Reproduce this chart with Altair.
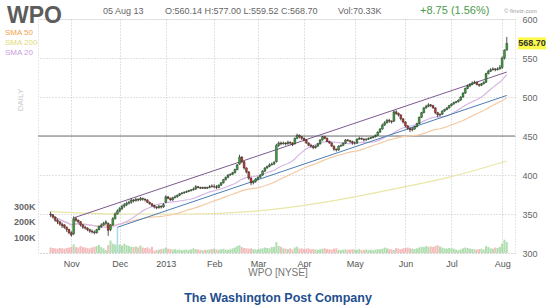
import altair as alt
import pandas as pd

FONT = "Liberation Sans"

# ---------------- data ----------------
holidays = ["2012-10-29", "2012-10-30", "2012-11-22", "2012-12-25", "2013-01-01",
            "2013-01-21", "2013-02-18", "2013-03-29", "2013-05-27", "2013-07-04"]
days = pd.bdate_range("2012-10-17", "2013-08-05")
days = days[~days.isin(pd.to_datetime(holidays))]

close = [
    349, 346, 342, 340, 337, 335, 333, 330, 326,
    323, 344, 342, 340, 336, 333, 332, 330, 328, 327, 326, 330, 334, 336, 338, 340, 329, 336, 344, 350, 354,
    357, 360, 362, 364, 365, 368, 367, 369, 368, 370, 369, 368, 365, 363, 361, 359, 358, 360, 359, 362,
    372, 370, 368, 371, 372, 374, 376, 377, 378, 379, 380, 381, 382, 385, 384, 383, 384, 383, 384, 385, 385,
    385, 384, 387, 390, 394, 397, 400, 401, 403, 407, 413, 423, 417, 409, 404, 396, 390, 392, 395,
    397, 400, 405, 409, 411, 413, 414, 416, 438, 441, 440, 441, 440, 442, 441, 439, 447, 451, 449, 447,
    445, 441, 438, 437, 435, 437, 440, 445, 449, 447, 443, 441, 437, 433, 432, 437, 438, 441, 445, 444, 443, 441,
    441, 446, 447, 446, 445, 446, 447, 448, 449, 451, 455, 459, 464, 467, 470, 469, 468, 481, 479, 477, 472, 468,
    463, 460, 458, 459, 462, 466, 474, 480, 486, 488, 490, 489, 486, 480, 477, 478, 482, 484, 486, 489,
    491, 493, 494, 496, 500, 505, 511, 514, 516, 518, 519, 516, 515, 517, 519, 530, 533, 535, 536, 535, 536, 538,
    550, 559.95, 568.70,
]
open_ = [
    350, 349, 346, 342, 340, 337, 336, 333, 330,
    326, 325, 344, 342, 340, 336, 333, 332, 330, 328, 327, 326, 330, 334, 336, 338, 338, 330, 336, 344, 350,
    354, 357, 360, 362, 364, 365, 368, 367, 369, 368, 370, 369, 368, 365, 363, 361, 359, 358, 360, 359,
    365, 372, 370, 368, 371, 372, 374, 376, 377, 378, 379, 380, 381, 382, 385, 384, 383, 384, 383, 384, 386,
    385, 385, 384, 387, 390, 394, 397, 400, 401, 403, 407, 414, 423, 417, 409, 404, 396, 390, 392,
    395, 397, 400, 405, 409, 411, 413, 414, 417, 438, 441, 440, 441, 440, 442, 441, 440, 447, 451, 449,
    447, 445, 441, 438, 437, 435, 437, 440, 445, 449, 447, 443, 441, 437, 433, 432, 437, 438, 441, 445, 444, 443,
    441, 441, 446, 447, 446, 445, 446, 447, 448, 449, 451, 455, 459, 464, 467, 470, 469, 469, 481, 479, 477, 472,
    468, 463, 460, 458, 459, 462, 466, 474, 480, 486, 488, 490, 489, 486, 480, 477, 478, 482, 484, 486,
    489, 491, 493, 494, 496, 500, 505, 511, 514, 516, 518, 519, 516, 515, 517, 519, 530, 533, 535, 536, 535, 536,
    538, 550, 560.14,
]
high = [
    353, 350, 347, 344, 341, 339, 337, 334, 331,
    328, 347, 346, 343, 341, 337, 335, 333, 331, 330, 329, 331, 335, 338, 340, 342, 339, 337, 346, 352, 356,
    359, 362, 364, 366, 367, 370, 369, 371, 370, 372, 371, 370, 369, 366, 364, 362, 360, 362, 361, 364,
    374, 373, 371, 372, 374, 375, 377, 378, 379, 380, 381, 382, 384, 387, 386, 385, 385, 385, 385, 387, 388,
    388, 387, 388, 391, 395, 398, 401, 402, 404, 408, 414, 426, 424, 418, 410, 405, 397, 393, 396,
    398, 401, 406, 410, 412, 415, 416, 418, 440, 443, 443, 443, 442, 444, 443, 442, 448, 453, 452, 450,
    448, 446, 442, 440, 438, 438, 441, 446, 450, 450, 448, 444, 442, 438, 434, 438, 439, 442, 446, 446, 445, 444,
    443, 447, 449, 448, 447, 447, 448, 449, 450, 452, 456, 460, 466, 469, 472, 472, 470, 483, 483, 480, 478, 473,
    469, 464, 461, 461, 463, 467, 475, 481, 487, 490, 492, 491, 490, 487, 481, 479, 483, 485, 487, 490,
    492, 494, 495, 497, 501, 506, 512, 516, 518, 520, 521, 520, 517, 518, 520, 531, 535, 537, 538, 537, 538, 541,
    552, 561, 577.00,
]
low = [
    346, 344, 340, 337, 335, 332, 331, 327, 324,
    321, 323, 340, 338, 334, 331, 330, 328, 326, 325, 324, 325, 329, 332, 335, 336, 322, 328, 335, 343, 349,
    352, 355, 358, 360, 362, 363, 365, 366, 366, 367, 367, 366, 364, 362, 359, 357, 356, 357, 357, 358,
    364, 369, 367, 367, 370, 371, 373, 375, 376, 377, 378, 379, 380, 381, 383, 382, 382, 382, 382, 383, 384,
    383, 382, 383, 386, 389, 393, 396, 399, 400, 402, 406, 413, 415, 407, 402, 394, 387, 388, 390,
    393, 396, 399, 404, 408, 410, 412, 413, 416, 436, 438, 439, 438, 439, 439, 437, 439, 446, 447, 445,
    443, 440, 437, 435, 433, 434, 436, 439, 444, 446, 442, 440, 436, 431, 430, 431, 436, 437, 440, 443, 441, 439,
    439, 440, 445, 445, 443, 444, 445, 446, 447, 448, 450, 454, 458, 463, 466, 467, 466, 468, 477, 475, 470, 466,
    461, 458, 455, 456, 458, 461, 465, 473, 479, 485, 487, 487, 485, 478, 474, 475, 477, 481, 483, 485,
    488, 490, 492, 493, 495, 499, 504, 510, 513, 515, 517, 515, 513, 514, 516, 518, 529, 532, 534, 533, 534, 535,
    536, 548, 559.52,
]
volume_k = [
    35, 32, 30, 28, 33, 30, 28, 32, 35,
    40, 55, 38, 35, 45, 38, 35, 33, 30, 36, 40, 45, 52, 38, 30, 18, 50, 80, 60, 55, 50,
    55, 48, 60, 50, 45, 40, 38, 42, 36, 48, 35, 32, 36, 28, 40, 14, 20, 22, 25, 28,
    35, 28, 25, 22, 24, 20, 22, 18, 20, 22, 19, 24, 30, 25, 22, 20, 18, 21, 20, 23, 25,
    28, 22, 20, 24, 26, 22, 20, 25, 30, 35, 45, 50, 38, 32, 30, 28, 30, 25, 22,
    24, 28, 30, 35, 32, 30, 38, 40, 70, 45, 40, 30, 28, 25, 30, 22, 35, 40, 28, 30,
    25, 28, 30, 24, 26, 22, 20, 25, 28, 30, 26, 24, 22, 28, 30, 20, 18, 22, 24, 20, 22, 25,
    22, 20, 26, 18, 20, 22, 19, 21, 18, 22, 25, 24, 28, 35, 30, 26, 24, 20, 32, 28, 25, 30,
    32, 35, 30, 28, 26, 30, 35, 40, 38, 45, 40, 42, 38, 45, 50, 42, 35, 30, 28, 32,
    30, 28, 22, 18, 24, 30, 35, 32, 28, 26, 24, 22, 25, 28, 22, 45, 38, 30, 28, 35, 32, 40,
    60, 85, 70.33,
]

# 200-day SMA, read at a few trading-day positions
sma200_idx = [0, 30, 59, 90, 110, 132, 154, 174, 198]
sma200_val = [353, 350, 350, 354, 361, 372, 385, 398, 418]

# trend channel end points (trading-day index, price)
upper_idx = [10, 198]
upper_val = [345, 532]
lower_idx = [29, 198]
lower_val = [333, 502]

tick_labels = ["Nov", "Dec", "2013", "Feb", "Mar", "Apr", "May", "Jun", "Jul", "Aug"]
last_price = 568.70

n = len(days)
for name, arr in [("close", close), ("open", open_), ("high", high), ("low", low), ("volume", volume_k)]:
    if len(arr) != n:
        raise ValueError(f"{name} has {len(arr)} values, expected {n}")

df = pd.DataFrame({"i": list(range(n)), "open": open_, "high": high,
                   "low": low, "close": close, "volume": volume_k})

first_idx = {}
for j, d in enumerate(days):
    first_idx.setdefault((d.year, d.month), j)
tick_idx = list(first_idx.values())[1:]

label_expr = ("[" + ",".join(f"'{t}'" for t in tick_labels) + "][indexof(["
              + ",".join(str(v) for v in tick_idx) + "], datum.value)]")

# ---------------- encodings ----------------
GRID = "#c4c4c4"
x_enc = alt.X("i:Q",
              scale=alt.Scale(domain=[-3.3, 199.4], nice=False, zero=False),
              axis=alt.Axis(values=tick_idx, labelExpr=label_expr, title=None, grid=True,
                            gridColor=GRID, gridDash=[1, 2], ticks=False, domain=False,
                            labelFont=FONT, labelFontSize=9, labelColor="#555",
                            labelPadding=6))
y_scale = alt.Scale(domain=[300, 600], nice=False, zero=False)
y_axis = alt.Axis(orient="right", values=list(range(300, 601, 50)), title=None, grid=True,
                  gridColor=GRID, gridDash=[1, 2], ticks=False, tickSize=0, domain=False,
                  labelFont=FONT, labelFontSize=9, labelColor="#666", labelPadding=7)


def Y(field):
    return alt.Y(field, scale=y_scale, axis=y_axis)


up_test = "datum.close >= datum.open"

volume = alt.Chart(df).mark_bar(size=2, opacity=0.7).encode(
    x=x_enc,
    y=alt.Y("volume:Q", scale=alt.Scale(domain=[0, 1500], nice=False),
            axis=alt.Axis(orient="left", values=[100, 200, 300], labelExpr="datum.value + 'K'",
                          grid=False, ticks=False, domain=False, title=None,
                          labelFont=FONT, labelFontSize=9, labelColor="#666",
                          labelFontWeight="bold", labelPadding=3)),
    color=alt.condition(up_test, alt.value("#8fd08f"), alt.value("#f0a0a0")),
)

level = alt.Chart(pd.DataFrame({"p": [450]})).mark_rule(color="#707070", strokeWidth=1).encode(
    y=Y("p:Q"))

marker = alt.Chart(pd.DataFrame({"i": [lower_idx[0]], "p0": [300], "p1": [lower_val[0]]})).mark_rule(
    color="#a6dcea", strokeWidth=1.5).encode(x=x_enc, y=Y("p0:Q"), y2="p1:Q")

sma200 = alt.Chart(pd.DataFrame({"i": sma200_idx, "v": sma200_val})).mark_line(
    color="#ebe6a6", strokeWidth=1.2, interpolate="monotone").encode(x=x_enc, y=Y("v:Q"))

sma50 = alt.Chart(df).transform_window(
    s="mean(close)", frame=[-49, 0], sort=[alt.SortField("i")]
).mark_line(color="#f3cba6", strokeWidth=1.2).encode(x=x_enc, y=Y("s:Q"))

sma20 = alt.Chart(df).transform_window(
    s="mean(close)", frame=[-19, 0], sort=[alt.SortField("i")]
).mark_line(color="#d6b8e6", strokeWidth=1.2).encode(x=x_enc, y=Y("s:Q"))

upper = alt.Chart(pd.DataFrame({"i": upper_idx, "v": upper_val})).mark_line(
    color="#7c5a8e", strokeWidth=1).encode(x=x_enc, y=Y("v:Q"))
lower = alt.Chart(pd.DataFrame({"i": lower_idx, "v": lower_val})).mark_line(
    color="#4a7db4", strokeWidth=1).encode(x=x_enc, y=Y("v:Q"))

wicks = alt.Chart(df).mark_rule(color="#2a2a2a", strokeWidth=0.8).encode(
    x=x_enc, y=Y("low:Q"), y2="high:Q")
bodies = alt.Chart(df).mark_bar(size=1.9, stroke="#1e1e1e", strokeWidth=0.4).encode(
    x=x_enc, y=Y("open:Q"), y2="close:Q",
    color=alt.condition(up_test, alt.value("#3aa43a"), alt.value("#c03a2e")))

last_df = pd.DataFrame({"p": [last_price], "t": [f"{last_price:.2f}"]})
last_box = alt.Chart(last_df).mark_rect(color="#fbf94a", yOffset=-6, y2Offset=6).encode(
    x=alt.value(480), x2=alt.value(508), y=Y("p:Q"), y2="p:Q")
last_txt = alt.Chart(last_df).mark_text(font=FONT, fontSize=9, fontWeight="bold",
                                        color="#333", align="center", baseline="middle").encode(
    x=alt.value(494), y=Y("p:Q"), text="t:N")


def label(text, x, y, size=9, color="#666", weight="normal", align="left", angle=0,
          baseline="middle"):
    return alt.Chart(pd.DataFrame({"t": [text]})).mark_text(
        font=FONT, fontSize=size, color=color, fontWeight=weight, align=align,
        baseline=baseline, angle=angle).encode(x=alt.value(x), y=alt.value(y), text="t:N")


texts = [
    label("WPO", -31, 4, size=23, color="#5c5c5c", weight="bold", baseline="alphabetic"),
    label("05 Aug 13", 65, -8, size=9),
    label("O:560.14  H:577.00  L:559.52  C:568.70", 127, -8, size=9),
    label("Vol:70.33K", 300, -8, size=9),
    label("+8.75 (1.56%)", 382, -8, size=11, color="#4d9a4d"),
    label("© finviz.com", 466, -8, size=6, color="#9a9a9a"),
    label("SMA 50", -33, 14, size=8, color="#f0a24e"),
    label("SMA 200", -33, 24, size=8, color="#e2da78"),
    label("SMA 20", -33, 34, size=8, color="#c79ee0"),
    label("DAILY", -17, 81, size=8, color="#c8c8c8", align="center", angle=270),
    label("WPO [NYSE]", 240, 254, size=10, color="#777", align="center"),
    label("The Washington Post Company", 240, 279, size=12.5, color="#1f4f8f",
          weight="bold", align="center"),
]

price = alt.layer(level, marker, sma200, sma50, sma20, upper, lower, wicks, bodies,
                  last_box, last_txt, *texts)

chart = alt.layer(volume, price).resolve_scale(y="independent").properties(
    width=477, height=234,
    padding={"left": 38, "top": 19, "right": 35, "bottom": 53},
    autosize=alt.AutoSizeParams(type="none"),
    background="white",
).configure_view(stroke="#d0d0d0", strokeDash=[1, 2])

chart.save("out.html", embed_options={"renderer": "svg", "actions": False})
